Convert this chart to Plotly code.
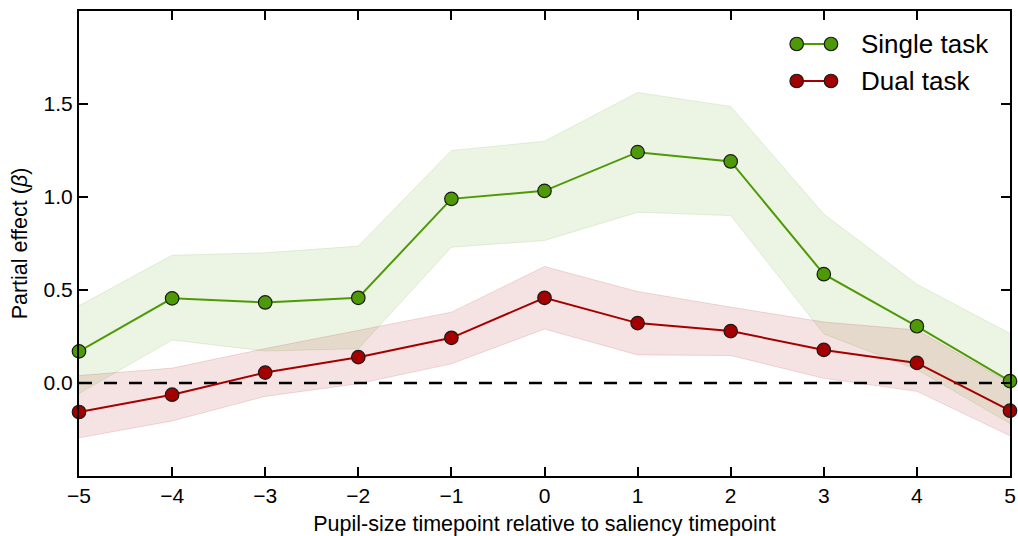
import plotly.graph_objects as go

# ---- data ----
timepoints = [-5, -4, -3, -2, -1, 0, 1, 2, 3, 4, 5]
single_mean = [0.17, 0.455, 0.433, 0.458, 0.99, 1.033, 1.241, 1.191, 0.585, 0.305, 0.01]
single_lo = [-0.057, 0.231, 0.172, 0.184, 0.73, 0.766, 0.918, 0.90, 0.264, 0.072, -0.218]
single_hi = [0.415, 0.687, 0.70, 0.736, 1.25, 1.30, 1.562, 1.487, 0.908, 0.531, 0.266]
dual_mean = [-0.156, -0.063, 0.056, 0.139, 0.243, 0.458, 0.322, 0.279, 0.178, 0.108, -0.149]
dual_lo = [-0.295, -0.204, -0.072, -0.004, 0.103, 0.29, 0.151, 0.148, 0.025, -0.045, -0.284]
dual_hi = [0.04, 0.08, 0.185, 0.282, 0.381, 0.626, 0.492, 0.408, 0.328, 0.285, 0.0]
series_names = ["Single task", "Dual task"]
x_tick_vals = [-5, -4, -3, -2, -1, 0, 1, 2, 3, 4, 5]
x_tick_text = ["\u22125", "\u22124", "\u22123", "\u22122", "\u22121", "0", "1", "2", "3", "4", "5"]
y_tick_vals = [0.0, 0.5, 1.0, 1.5]
y_tick_text = ["0.0", "0.5", "1.0", "1.5"]

GREEN = "#4e9a06"
RED = "#a40000"
FONT = "Liberation Sans, Arial, sans-serif"

fig = go.Figure()

def band(lo, hi, rgba_fill, rgba_edge):
    fig.add_trace(go.Scatter(x=timepoints, y=hi, mode="lines",
                             line=dict(color=rgba_edge, width=1),
                             showlegend=False, hoverinfo="skip"))
    fig.add_trace(go.Scatter(x=timepoints, y=lo, mode="lines", fill="tonexty",
                             fillcolor=rgba_fill, line=dict(color=rgba_edge, width=1),
                             showlegend=False, hoverinfo="skip"))

band(single_lo, single_hi, "rgba(78,154,6,0.11)", "rgba(78,154,6,0.13)")
band(dual_lo, dual_hi, "rgba(164,0,0,0.11)", "rgba(164,0,0,0.13)")

# zero reference line
fig.add_trace(go.Scatter(x=[timepoints[0], timepoints[-1]], y=[0, 0], mode="lines",
                         line=dict(color="black", width=2.5, dash="13px,12px"),
                         showlegend=False, hoverinfo="skip"))

for name, vals, col in [(series_names[0], single_mean, GREEN),
                        (series_names[1], dual_mean, RED)]:
    fig.add_trace(go.Scatter(x=timepoints, y=vals, mode="lines+markers", name=name,
                             line=dict(color=col, width=2),
                             marker=dict(color=col, size=13.5,
                                         line=dict(color="#1a1a1a", width=1.2)),
                             cliponaxis=False, showlegend=False))

# ---- custom legend (two markers per entry, like matplotlib) ----
L, R, T, B = 79, 1010, 11, 476
def px2paper(px, py):
    return (px - L) / (R - L), (B - py) / (B - T)

shapes = []
annotations = []
for i, (name, col) in enumerate([(series_names[0], GREEN), (series_names[1], RED)]):
    cy = 44 + i * 37
    x1, y1 = px2paper(796.7, cy)
    x2, _ = px2paper(831, cy)
    shapes.append(dict(type="line", xref="paper", yref="paper", x0=x1, x1=x2, y0=y1, y1=y1,
                       line=dict(color=col, width=2)))
    rx = 6.75 / (R - L)
    ry = 6.75 / (B - T)
    for xc in (x1, x2):
        shapes.append(dict(type="circle", xref="paper", yref="paper",
                           x0=xc - rx, x1=xc + rx, y0=y1 - ry, y1=y1 + ry,
                           fillcolor=col, line=dict(color="#1a1a1a", width=1.2)))
    tx, _ = px2paper(861, cy)
    annotations.append(dict(xref="paper", yref="paper", x=tx, y=y1, text=name,
                            showarrow=False, xanchor="left", yanchor="middle",
                            xshift=-2, font=dict(size=26, color="black", family=FONT)))

fig.update_layout(
    width=1018, height=536,
    margin=dict(l=L, r=1018 - R, t=T, b=536 - B, autoexpand=False),
    paper_bgcolor="white", plot_bgcolor="white",
    font=dict(family=FONT, color="black", size=21),
    shapes=shapes, annotations=annotations,
    showlegend=False,
)
fig.update_xaxes(range=[-5, 5], tickvals=x_tick_vals, ticktext=x_tick_text,
                 showgrid=False, zeroline=False, showline=True, linecolor="black",
                 linewidth=2, mirror="ticks", ticks="inside", ticklen=9, tickwidth=1.5,
                 tickcolor="black", tickfont=dict(size=21), automargin=False,
                 title=dict(text="Pupil-size timepoint relative to saliency timepoint",
                            font=dict(size=21.5), standoff=10))
fig.update_yaxes(range=[-0.5, 2.0], tickvals=y_tick_vals, ticktext=y_tick_text,
                 showgrid=False, zeroline=False, showline=True, linecolor="black",
                 linewidth=2, mirror="ticks", ticks="inside", ticklen=9, tickwidth=1.5,
                 tickcolor="black", tickfont=dict(size=21), automargin=False,
                 title=dict(text="Partial effect (<i>\u03b2</i>)", font=dict(size=21.5),
                            standoff=10))

fig.write_html("out.html")
